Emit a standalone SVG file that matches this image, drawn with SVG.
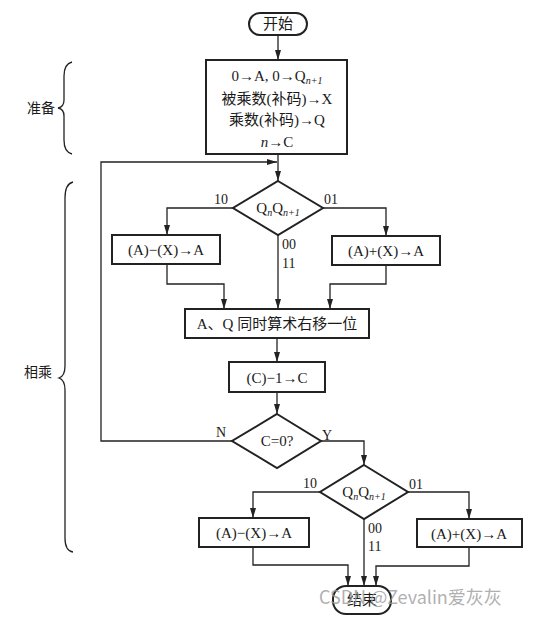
<svg xmlns="http://www.w3.org/2000/svg" width="537" height="617" viewBox="0 0 537 617">
<defs>
<marker id="ah" markerUnits="userSpaceOnUse" markerWidth="10" markerHeight="6" refX="10" refY="3" orient="auto">
<path d="M0,0 L10,3 L0,6 z" fill="#222"/>
</marker>
<style>
.box{fill:#fff;stroke:#222;stroke-width:2}
.ln{fill:none;stroke:#222;stroke-width:1.3;marker-end:url(#ah)}
.pl{fill:none;stroke:#222;stroke-width:1.3}
.t{font-family:"Liberation Serif","Noto Sans CJK SC",serif;font-size:15px;fill:#1a1a1a;text-anchor:middle}
.lb{font-family:"Liberation Serif",serif;font-size:14px;fill:#1a1a1a}
.side{font-family:"Noto Sans CJK SC",sans-serif;font-size:14px;fill:#1a1a1a;text-anchor:middle}
.sub{font-size:10px;font-style:italic}
.it{font-style:italic}
.wm{font-family:"Noto Sans CJK SC",sans-serif;font-size:18px;fill:#9a9a9a;fill-opacity:0.8}
</style>
</defs>
<rect width="537" height="617" fill="#fff"/>

<g id="connectors">
<path class="ln" d="M278,35 V60"/>
<path class="ln" d="M278,154 V181"/>
<path class="ln" d="M232,441 H101 V162 H277"/>
<path class="ln" d="M233,208 H167 V235"/>
<path class="ln" d="M322,208 H386 V236"/>
<path class="ln" d="M278,235 V309"/>
<path class="ln" d="M167,264 V284 H224 V309"/>
<path class="ln" d="M386,265 V284 H330 V309"/>
<path class="ln" d="M277,338 V362"/>
<path class="ln" d="M277,392 V414"/>
<path class="ln" d="M321,441 H364 V465"/>
<path class="ln" d="M320,492 H253 V518"/>
<path class="ln" d="M408,492 H469 V519"/>
<path class="ln" d="M364,519 V586"/>
<path class="ln" d="M253,547 V565 H348 V586"/>
<path class="ln" d="M469,547 V566 H376 V586"/>
</g>

<g id="braces">
<path class="pl" d="M72,62 Q64,64 64,76 V100 Q64,107 58,108 Q64,109 64,116 V140 Q64,152 72,154"/>
<path class="pl" d="M73,182 Q65,184 65,198 V366 Q65,376 59,378 Q65,380 65,390 V538 Q65,551 73,552"/>
<text class="side" x="41" y="113">准备</text>
<text class="side" x="38" y="377">相乘</text>
</g>

<g id="start">
<rect class="box" x="249" y="13" width="58" height="22" rx="11"/>
<text class="t" x="278" y="29">开始</text>
</g>

<g id="init">
<rect class="box" x="206" y="60" width="141" height="94"/>
<text class="t" x="277" y="81">0→A, 0→Q<tspan class="sub" dy="3">n+1</tspan></text>
<text class="t" x="277" y="104">被乘数(补码)→X</text>
<text class="t" x="277" y="125">乘数(补码)→Q</text>
<text class="t" x="277" y="147"><tspan class="it">n</tspan>→C</text>
</g>

<g id="d1">
<polygon class="box" points="278,181 323,208 278,235 233,208"/>
<text class="t" x="278" y="213">Q<tspan class="sub" dy="3">n</tspan><tspan dy="-3">Q</tspan><tspan class="sub" dy="3">n+1</tspan></text>
<text class="lb" x="214" y="204">10</text>
<text class="lb" x="324" y="204">01</text>
<text class="lb" x="282" y="249">00</text>
<text class="lb" x="282" y="268">11</text>
</g>

<g id="sub1">
<rect class="box" x="112" y="235" width="108" height="29"/>
<text class="t" x="166" y="255">(A)−(X)→A</text>
</g>

<g id="add1">
<rect class="box" x="332" y="236" width="108" height="29"/>
<text class="t" x="386" y="256">(A)+(X)→A</text>
</g>

<g id="shift">
<rect class="box" x="185" y="309" width="184" height="29"/>
<text class="t" x="277" y="329">A、Q 同时算术右移一位</text>
</g>

<g id="dec">
<rect class="box" x="229" y="362" width="96" height="30"/>
<text class="t" x="277" y="383">(C)−1→C</text>
</g>

<g id="d2">
<polygon class="box" points="277,414 321,441 277,468 232,441"/>
<text class="t" x="277" y="446">C=0?</text>
<text class="lb" x="216" y="437">N</text>
<text class="lb" x="322" y="440">Y</text>
</g>

<g id="d3">
<polygon class="box" points="364,465 408,492 364,519 320,492"/>
<text class="t" x="364" y="497">Q<tspan class="sub" dy="3">n</tspan><tspan dy="-3">Q</tspan><tspan class="sub" dy="3">n+1</tspan></text>
<text class="lb" x="303" y="488">10</text>
<text class="lb" x="409" y="489">01</text>
<text class="lb" x="368" y="533">00</text>
<text class="lb" x="368" y="551">11</text>
</g>

<g id="sub2">
<rect class="box" x="199" y="518" width="110" height="29"/>
<text class="t" x="254" y="538">(A)−(X)→A</text>
</g>

<g id="add2">
<rect class="box" x="417" y="519" width="105" height="28"/>
<text class="t" x="469" y="539">(A)+(X)→A</text>
</g>

<g id="end">
<rect class="box" x="333" y="586" width="58" height="28" rx="13"/>
<text class="t" x="362" y="605">结束</text>
</g>

<text class="wm" x="319" y="604">CSDN @Zevalin爱灰灰</text>
</svg>
